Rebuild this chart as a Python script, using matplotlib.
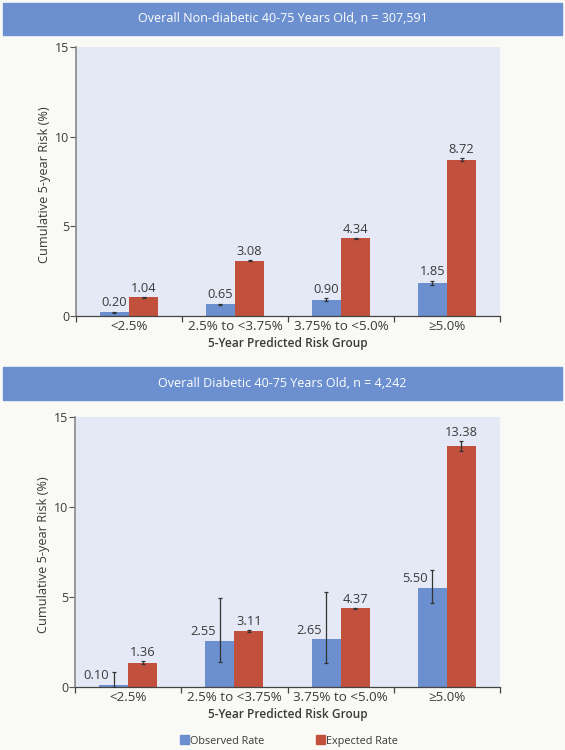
import numpy as np
import matplotlib
matplotlib.use("Agg")
from matplotlib import pyplot as plt
from matplotlib.patches import Rectangle

plt.rcParams['font.family'] = ['Open Sans', 'DejaVu Sans']

# data
groups = ["<2.5%", "2.5% to <3.75%", "3.75% to <5.0%", "\u22655.0%"]

titles = ["Overall Non-diabetic 40-75 Years Old, n = 307,591",
          "Overall Diabetic 40-75 Years Old, n = 4,242"]

obs_nd = [0.20, 0.65, 0.90, 1.85]
obs_nd_lo = [0.17, 0.62, 0.82, 1.73]
obs_nd_hi = [0.23, 0.68, 0.98, 1.97]
exp_nd = [1.04, 3.08, 4.34, 8.72]
exp_nd_lo = [1.02, 3.06, 4.31, 8.62]
exp_nd_hi = [1.06, 3.10, 4.37, 8.82]

obs_d = [0.10, 2.55, 2.65, 5.50]
obs_d_lo = [0.00, 1.39, 1.33, 4.68]
obs_d_hi = [0.85, 4.96, 5.29, 6.50]
exp_d = [1.36, 3.11, 4.37, 13.38]
exp_d_lo = [1.26, 3.08, 4.34, 13.10]
exp_d_hi = [1.46, 3.14, 4.40, 13.66]

BLUE = '#6b8fcf'
RED = '#c1503c'
HEADER = '#6b8fcf'
PLOT_BG = '#e5e9f6'
FIG_BG = '#f9faf5'
TEXT = '#3a3a3a'

W, H = 565, 750
fig = plt.figure(figsize=(W / 100, H / 100), dpi=100, facecolor=FIG_BG)


def px_axes(left, top, right, bottom):
    return fig.add_axes([left / W, 1 - bottom / H, (right - left) / W, (bottom - top) / H])


def header(top, bottom, text):
    fig.patches.append(Rectangle((3 / W, 1 - bottom / H), 559 / W, (bottom - top) / H,
                                 transform=fig.transFigure, color=HEADER, zorder=0))
    fig.text(0.5, 1 - (top + bottom) / 2 / H, text, color='white', fontsize=9,
             ha='center', va='center')


def panel(ax, obs, obs_lo, obs_hi, exp, exp_lo, exp_hi, shift_obs_labels):
    x = np.arange(len(groups))
    w = 0.274
    ax.set_facecolor(PLOT_BG)
    ax.bar(x - w / 2, obs, w, color=BLUE, zorder=2)
    ax.bar(x + w / 2, exp, w, color=RED, zorder=2)
    obs_err = [np.array(obs) - np.array(obs_lo), np.array(obs_hi) - np.array(obs)]
    exp_err = [np.array(exp) - np.array(exp_lo), np.array(exp_hi) - np.array(exp)]
    ax.errorbar(x - w / 2, obs, yerr=obs_err, fmt='none', ecolor='#333333',
                elinewidth=0.9, capsize=1.5, capthick=0.9, zorder=3)
    ax.errorbar(x + w / 2, exp, yerr=exp_err, fmt='none', ecolor='#333333',
                elinewidth=0.9, capsize=1.5, capthick=0.9, zorder=3)

    for i in range(len(groups)):
        if shift_obs_labels:
            ax.annotate("{:.2f}".format(obs[i]), (x[i] - w / 2, obs[i]),
                        xytext=(-3, 2), textcoords='offset points',
                        ha='right', va='bottom', fontsize=9.3, color=TEXT)
        else:
            ax.annotate("{:.2f}".format(obs[i]), (x[i] - w / 2, obs_hi[i]),
                        xytext=(0, 2), textcoords='offset points',
                        ha='center', va='bottom', fontsize=9.3, color=TEXT)
        ax.annotate("{:.2f}".format(exp[i]), (x[i] + w / 2, exp_hi[i]),
                    xytext=(0, 1.5), textcoords='offset points',
                    ha='center', va='bottom', fontsize=9.3, color=TEXT)

    ax.set_xlim(-0.5, len(groups) - 0.5)
    ax.set_ylim(0, 15)
    ax.set_yticks([0, 5, 10, 15])
    ax.tick_params(axis='y', direction='out', length=4, width=0.8, color='#555555',
                   labelsize=9, labelcolor=TEXT, pad=1)
    ax.set_xticks(np.arange(len(groups) + 1) - 0.5)
    ax.set_xticklabels([])
    ax.set_xticks(x, minor=True)
    ax.set_xticklabels(groups, minor=True)
    ax.tick_params(axis='x', which='major', direction='out', length=4, width=0.9,
                   color='#444444')
    ax.tick_params(axis='x', which='minor', length=0, labelsize=9.6,
                   labelcolor=TEXT, pad=3)
    for s in ['top', 'right']:
        ax.spines[s].set_visible(False)
    ax.spines['left'].set_color('#888888')
    ax.spines['left'].set_linewidth(1.2)
    ax.spines['bottom'].set_color('#444444')
    ax.spines['bottom'].set_linewidth(0.9)
    ax.set_ylabel("Cumulative 5-year Risk (%)", fontsize=9.2, color=TEXT)
    ax.yaxis.set_label_coords(-0.058, 0.49)
    ax.set_xlabel("5-Year Predicted Risk Group", fontsize=8.6, color=TEXT,
                  fontweight='semibold', labelpad=3)


header(3, 35, titles[0])
ax1 = px_axes(76, 47, 500, 316)
panel(ax1, obs_nd, obs_nd_lo, obs_nd_hi, exp_nd, exp_nd_lo, exp_nd_hi, False)

header(367, 400, titles[1])
ax2 = px_axes(75, 417, 500, 687)
panel(ax2, obs_d, obs_d_lo, obs_d_hi, exp_d, exp_d_lo, exp_d_hi, True)

# legend
handles = [Rectangle((0, 0), 1, 1, color=BLUE), Rectangle((0, 0), 1, 1, color=RED)]
fig.legend(handles, ["Observed Rate", "Expected Rate"], loc='center',
           bbox_to_anchor=(289 / W, 1 - 741 / H), ncol=2, frameon=False,
           fontsize=7.8, handlelength=0.85, handleheight=0.85, handletextpad=0.15,
           columnspacing=4.7, labelcolor=TEXT)

fig.savefig("out.png", dpi=100, facecolor=FIG_BG)
